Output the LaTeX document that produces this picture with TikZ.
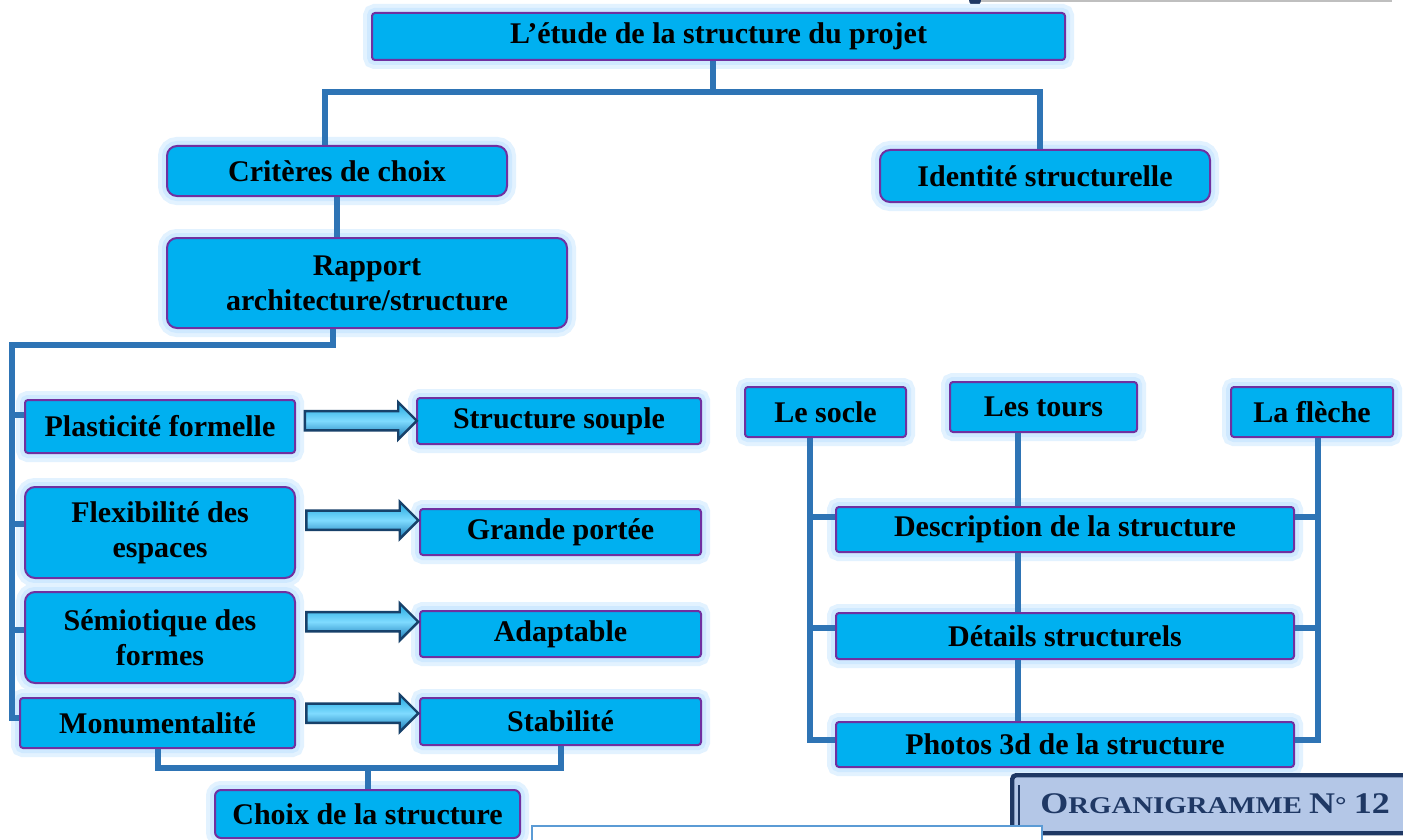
\documentclass[tikz,border=0pt]{standalone}
\usepackage{fontspec}
\setmainfont{Liberation Serif}
\newfontfamily\orgfont{Liberation Serif}
\usetikzlibrary{calc,shapes.arrows}
\definecolor{boxcyan}{HTML}{00B0F0}
\definecolor{boxpurple}{HTML}{7030A0}
\definecolor{glowblue}{HTML}{CFE9FF}
\definecolor{linkblue}{HTML}{2E74B5}
\definecolor{arrowcyan}{HTML}{1FA6DE}
\definecolor{arrowlight}{HTML}{7FDBFF}
\definecolor{arrowdeep}{HTML}{1677B5}
\definecolor{arrownavy}{HTML}{17416A}
\definecolor{orgnavy}{HTML}{1F3864}
\definecolor{orgfill}{HTML}{B4C7E7}
\definecolor{frameblue}{HTML}{5B9BD5}
\tikzset{
  box/.style={draw=boxpurple, line width=1pt, fill=boxcyan, align=center, inner sep=2pt, rounded corners=1.5pt, font=\bfseries\fontsize{15}{17.5}\selectfont, preaction={draw=glowblue!60, line width=9pt}, preaction={draw=glowblue, line width=5pt}},
  roundbox/.style={box, rounded corners=5pt},
  link/.style={draw=linkblue, line width=3pt, line join=miter},
  fatarrow/.style={single arrow, draw=arrownavy, line width=1.2pt, minimum height=56pt, inner sep=4.2pt, single arrow head extend=4.5pt, top color=arrowcyan, bottom color=arrowdeep, middle color=arrowlight},
  orgbox/.style={draw=orgnavy, line width=2.2pt, fill=orgfill, rounded corners=2pt, anchor=north west, minimum width=215pt, minimum height=29pt, inner sep=0pt},
}
\begin{document}
\begin{tikzpicture}[x=0.5pt,y=-0.5pt]
  \useasboundingbox (0,0) rectangle (1403,840);
  \clip (0,0) rectangle (1403,840);
  \draw[black!25, line width=1.5pt] (975,1) -- (1392,1);
  \fill[orgnavy] (975,0) circle (3pt);

  \node[box, minimum width=346.5pt, minimum height=23.5pt] (etude) at (718.5,36.5) {L’étude de la structure du projet};
  \node[roundbox, minimum width=170pt, minimum height=25pt] (criteres) at (337,171) {Critères de choix};
  \node[roundbox, minimum width=165pt, minimum height=26pt] (identite) at (1045,176) {Identité structurelle};
  \node[roundbox, minimum width=200pt, minimum height=45pt] (rapport) at (367,283) {Rapport\\architecture/structure};

  \node[box, minimum width=135pt, minimum height=26.5pt] (plast) at (160,426.5) {Plasticité formelle};
  \node[roundbox, minimum width=135pt, minimum height=45.5pt] (flex) at (160,532.5) {Flexibilité des\\espaces};
  \node[roundbox, minimum width=135pt, minimum height=45.5pt] (semio) at (160,637.5) {Sémiotique des\\formes};
  \node[box, minimum width=137.5pt, minimum height=25pt] (monu) at (157.5,723) {Monumentalité};
  \node[box, minimum width=142pt, minimum height=23pt] (souple) at (559,421) {Structure souple};
  \node[box, minimum width=140.5pt, minimum height=23pt] (portee) at (560.5,532) {Grande portée};
  \node[box, minimum width=140.5pt, minimum height=23pt] (adapt) at (560.5,634) {Adaptable};
  \node[box, minimum width=140.5pt, minimum height=23.5pt] (stab) at (560.5,721.5) {Stabilité};
  \node[roundbox, rounded corners=3pt, minimum width=152.5pt, minimum height=24pt] (choix) at (367.5,814) {Choix de la structure};

  \node[box, minimum width=80.5pt, minimum height=25pt] (socle) at (825.5,412) {Le socle};
  \node[box, minimum width=93.5pt, minimum height=25pt] (tours) at (1043.5,407) {Les tours};
  \node[box, minimum width=81pt, minimum height=25pt] (fleche) at (1312,412) {La flèche};
  \node[box, minimum width=229pt, minimum height=22.5pt] (desc) at (1065,529.5) {Description de la structure};
  \node[box, minimum width=229pt, minimum height=23pt] (details) at (1065,636) {Détails structurels};
  \node[box, minimum width=229pt, minimum height=22.5pt] (photos) at (1065,744.5) {Photos 3d de la structure};

  \coordinate (topbar) at (713,92);
  \draw[link] (etude.south -| topbar) -- (topbar);
  \draw[link] (criteres.north -| 325,0) |- (topbar) -| (identite.north -| 1040,0);
  \draw[link] (criteres.south) -- (rapport.north -| criteres.south);
  \draw[link] (rapport.south -| 333,0) |- (12,345) -- (12,718) -- (monu.west |- 0,718);
  \foreach \n/\y in {plast/415,flex/524,semio/630}
    \draw[link] (12,\y) -- (\n.west |- 0,\y);
  \draw[link] (monu.south) |- (choix.north |- 0,768) -| (stab.south);
  \draw[link] (choix.north) -- (choix.north |- 0,768);

  \foreach \a/\b/\dy in {plast/souple/-3,flex/portee/-12,semio/adapt/-14,monu/stab/-9}
    \node[fatarrow] at ($(\a.east)!.5!(\b.west)+(0,\dy)$) {};

  \draw[link] (socle.south -| 810,0) |- (photos.west |- 0,740);
  \draw[link] (fleche.south -| 1318,0) |- (photos.east |- 0,740);
  \foreach \n/\y in {desc/517,details/628} {
    \draw[link] (810,\y) -- (\n.west |- 0,\y);
    \draw[link] (1318,\y) -- (\n.east |- 0,\y);
  }
  \draw[link] (tours.south -| 1018,0) -- (desc.north -| 1018,0);
  \draw[link] (desc.south -| 1018,0) -- (details.north -| 1018,0);
  \draw[link] (details.south -| 1018,0) -- (photos.north -| 1018,0);

  \node[orgbox] (orga) at (1010,773) {};
  \draw[orgnavy, line width=0.8pt] (1019,785) -- (1019,826);
  \node[text=orgnavy, anchor=west, inner sep=0pt] (orgtitle) at (1040,804) {\scalebox{1.2}[1]{\orgfont\bfseries{\fontsize{15}{16}\selectfont O}\fontsize{12}{13}\selectfont RGANIGRAMME {\fontsize{15}{16}\selectfont N}° {\fontsize{15}{16}\selectfont 12}}};
  \draw[frameblue, fill=white, line width=1pt] (532,826) rectangle (1042,850);
\end{tikzpicture}
\end{document}
